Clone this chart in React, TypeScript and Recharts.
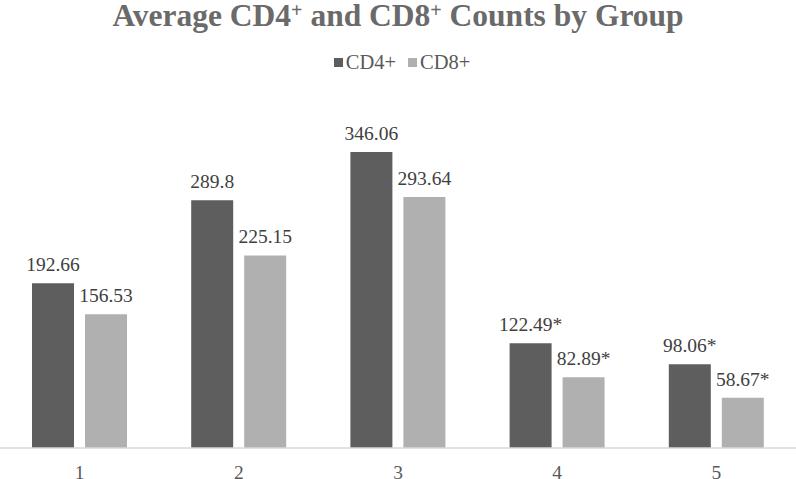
import { BarChart, Bar, XAxis, YAxis, LabelList } from 'recharts';

const groups = ['1', '2', '3', '4', '5'];
const cd4Values = [192.66, 289.8, 346.06, 122.49, 98.06];
const cd8Values = [156.53, 225.15, 293.64, 82.89, 58.67];
const cd4Labels = ['192.66', '289.8', '346.06', '122.49*', '98.06*'];
const cd8Labels = ['156.53', '225.15', '293.64', '82.89*', '58.67*'];

const series = [
  { key: 'cd4', label: 'cd4Label', name: 'CD4+', color: '#5e5e5e' },
  { key: 'cd8', label: 'cd8Label', name: 'CD8+', color: '#b0b0b0' },
];

const data = groups.map((g, i) => ({
  group: g,
  cd4: cd4Values[i],
  cd8: cd8Values[i],
  cd4Label: cd4Labels[i],
  cd8Label: cd8Labels[i],
}));

const font = 'Liberation Serif';

export default function App() {
  return (
    <div style={{ position: 'absolute', left: 0, top: 0, width: 796, height: 479, background: '#fff', fontFamily: font }}>
      {/* Title */}
      <div
        style={{
          position: 'absolute',
          top: 0,
          left: 0,
          width: 796,
          textAlign: 'center',
          fontSize: 31.5,
          lineHeight: '31px',
          fontWeight: 'bold',
          color: '#6a6a6a',
        }}
      >
        Average CD4<sup style={{ fontSize: 20, verticalAlign: 'top', lineHeight: '20px' }}>+</sup> and CD8
        <sup style={{ fontSize: 20, verticalAlign: 'top', lineHeight: '20px' }}>+</sup> Counts by Group
      </div>

      {/* Legend */}
      <div
        style={{
          position: 'absolute',
          top: 51,
          left: 4,
          width: 796,
          display: 'flex',
          justifyContent: 'center',
          gap: 12,
          fontSize: 20.5,
          lineHeight: '22px',
          color: '#595959',
        }}
      >
        {series.map((s) => (
          <span key={s.key} style={{ display: 'flex', alignItems: 'center' }}>
            <span style={{ width: 9, height: 9, background: s.color, marginRight: 3, display: 'inline-block' }} />
            {s.name}
          </span>
        ))}
      </div>

      <div style={{ position: 'absolute', left: 0, top: 0 }}>
        <BarChart
          width={796}
          height={479}
          data={data}
          margin={{ top: 106, right: 0, bottom: 1, left: 0 }}
          barGap={11}
          barCategoryGap={32}
        >
          <XAxis
            dataKey="group"
            axisLine={{ stroke: '#d9d9d9', strokeWidth: 1.5 }}
            tickLine={false}
            tickSize={0}
            tickMargin={17}
            height={30}
            tick={{ fill: '#595959', fontSize: 19.5, fontFamily: font }}
          />
          <YAxis hide domain={[0, 400]} />
          {series.map((s) => (
            <Bar key={s.key} dataKey={s.key} fill={s.color} barSize={42} isAnimationActive={false}>
              <LabelList
                dataKey={s.label}
                position="top"
                offset={12}
                fill="#404040"
                fontSize={19.5}
                fontFamily={font}
              />
            </Bar>
          ))}
        </BarChart>
      </div>
    </div>
  );
}
